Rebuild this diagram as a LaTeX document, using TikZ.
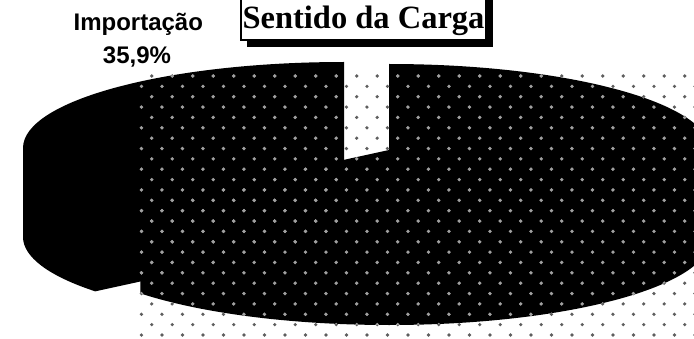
\documentclass[tikz,border=0pt]{standalone}
\usepackage{fontspec}
\setmainfont{Liberation Serif}
\newfontfamily\labelfont{Liberation Sans}
\definecolor{dotdark}{HTML}{5E5E5E}
\definecolor{dotlight}{HTML}{A0A0A0}
\newcommand{\mainslicepath}{(389,188) -- (389,274) arc[start angle=90,end angle=0,x radius=321,y radius=86]
  -- ++(0,-89) arc[start angle=0,end angle=-140.8,x radius=321,y radius=86]
  -- ++(0,89) -- cycle}
\newcommand{\impslicepath}{(344,190) -- (344,276) arc[start angle=90,end angle=180,x radius=321,y radius=86]
  -- ++(0,-89) arc[start angle=180,end angle=219.2,x radius=321,y radius=86]
  -- (344,101) -- cycle}
\newcommand{\dotgrid}[1]{%
\foreach \r in {0,...,12}{
  \foreach \k in {0,...,27}{
    \fill[#1] (151.7+20.5*\k, 262-20.72*\r) circle[radius=1.8pt];
    \fill[#1] (141.45+20.5*\k, 251.64-20.72*\r) circle[radius=1.8pt];
  }
}}
\begin{document}
\begin{tikzpicture}[x=1pt,y=1pt,
  slice/.style={fill=black},
  titlebox/.style={draw=black,line width=1.2pt,fill=white},
  titleshadow/.style={fill=black},
  titletext/.style={font=\bfseries\fontsize{32.5}{38}\selectfont,anchor=base,inner sep=0pt},
  pielabel/.style={font=\labelfont\bfseries\fontsize{24}{28}\selectfont,anchor=base,inner sep=0pt}]
\useasboundingbox (0,0) rectangle (694,338);
\clip (0,0) rectangle (694,338);
% main slice (64,1%)
\coordinate (M) at (389,188);
\fill[slice] \mainslicepath;
% Importacao slice (35,9%), exploded
\coordinate (I) at (344,190);
\fill[slice] \impslicepath;
% dotted overlay: darker on white, lighter on the black slices
\dotgrid{dotdark}
\begin{scope}
  \clip \mainslicepath;
  \dotgrid{dotlight}
\end{scope}
\begin{scope}
  \clip \impslicepath;
  \dotgrid{dotlight}
\end{scope}
% title
\fill[titleshadow] (247,345) rectangle (493,291);
\draw[titlebox] (241,345) rectangle (486,298);
\node[titletext] (title) at (363.5,309.7) {Sentido da Carga};
% label
\node[pielabel] (lab1) at (138.3,307.3) {Importação};
\node[pielabel] (lab2) at (137,274.7) {35,9\%};
\end{tikzpicture}
\end{document}
